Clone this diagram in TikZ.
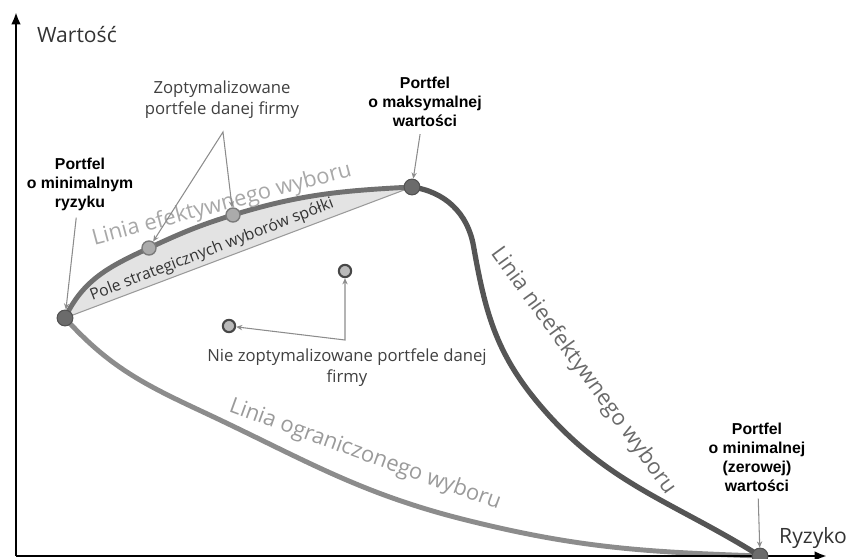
\documentclass[tikz,border=0pt]{standalone}
\usepackage{fontspec}
\setmainfont{Open Sans}
\newfontfamily\portfelfont{Liberation Sans}
\usetikzlibrary{arrows.meta}

\definecolor{effline}{HTML}{707070}
\definecolor{ineffline}{HTML}{555555}
\definecolor{limline}{HTML}{8C8C8C}
\definecolor{fieldgray}{HTML}{E3E3E3}
\definecolor{fieldedge}{HTML}{9A9A9A}
\definecolor{efftext}{HTML}{A8A8A8}
\definecolor{inefftext}{HTML}{6A6A6A}
\definecolor{limtext}{HTML}{9A9A9A}

\tikzset{
  axis/.style={line width=1.6pt, -{Latex[length=7pt,width=5.5pt]}},
  curve/.style={line width=2.8pt, line cap=round},
  pointer/.style={draw=black!45, line width=0.6pt, >={Stealth[length=3.5pt,width=3pt]}},
  keypt/.style={circle, fill=black!58, draw=black!68, line width=0.6pt, minimum size=9pt, inner sep=0pt},
  optpt/.style={circle, fill=black!33, draw=black!52, line width=0.8pt, minimum size=8pt, inner sep=0pt},
  noptpt/.style={circle, fill=black!27, draw=black!72, line width=1.2pt, minimum size=7pt, inner sep=0pt},
  portfel/.style={align=center, font=\portfelfont\bfseries\fontsize{9}{10.8}\selectfont},
  note/.style={align=center, text=black!75, font=\fontsize{9.5}{12}\selectfont},
  linetext/.style={font=\fontsize{12.5}{14}\selectfont},
  fieldtext/.style={text=black!80, font=\fontsize{9}{11}\selectfont},
  axislabel/.style={text=black!80, font=\fontsize{12}{14}\selectfont}
}

\begin{document}
\begin{tikzpicture}[every node/.style={inner sep=1pt}]
  \useasboundingbox (-0.32,-0.04) rectangle (16.84,11.12);

  % Points
  \coordinate (o) at (0,0);
  \coordinate (pmin) at (0.98,4.76);
  \coordinate (pmax) at (7.92,7.38);
  \coordinate (pzero) at (14.88,0);
  \coordinate (popt1) at (2.66,6.16);
  \coordinate (popt2) at (4.34,6.82);

  % Pole strategicznych wyborow
  \fill[fieldgray] (pmin) to[out=65,in=205] (popt1) to[out=25,in=197] (popt2) to[out=17,in=183] (pmax) -- cycle;
  \draw[fieldedge, line width=0.6pt] (pmin) -- (pmax);

  % Linie
  \draw[curve, draw=limline] (pmin) to[out=-48,in=155] (3.7,2.9) to[out=-25,in=166] (9.0,0.72) to[out=-14,in=178] (pzero);
  \draw[curve, draw=effline] (pmin) to[out=65,in=205] (popt1) to[out=25,in=197] (popt2) to[out=17,in=183] (pmax);
  \draw[curve, draw=ineffline, line width=3pt] (pmax) to[out=-8,in=100] (9.15,6.2) to[out=-80,in=130] (10.45,3.05) to[out=-50,in=148] (pzero);

  % Osie
  \draw[axis] (o) -- (0,10.88);
  \draw[axis] (o) -- (16.22,0);
  \node[axislabel, anchor=west] (wart) at (0.38,10.42) {Wartość};
  \node[axislabel] (ryz) at (15.94,0.36) {Ryzyko};

  % Portfele
  \node[keypt] (minr) at (pmin) {};
  \node[keypt] (maxv) at (pmax) {};
  \node[keypt] (zerov) at (pzero) {};
  \node[optpt] (opt1) at (popt1) {};
  \node[optpt] (opt2) at (popt2) {};
  \node[noptpt] (nopt1) at (6.58,5.70) {};
  \node[noptpt] (nopt2) at (4.26,4.60) {};

  % Opisy
  \node[portfel] (lminr) at (1.28,7.44) {Portfel\\o minimalnym\\ryzyku};
  \node[portfel] (lmaxv) at (8.18,9.08) {Portfel\\o maksymalnej\\wartości};
  \node[portfel] (lzerov) at (14.82,1.98) {Portfel\\o minimalnej\\(zerowej)\\wartości};
  \node[note] (lopt) at (4.12,9.12) {Zoptymalizowane\\portfele danej firmy};
  \node[note] (lnopt) at (6.62,3.76) {Nie zoptymalizowane portfele danej\\firmy};

  \node[linetext, text=efftext, rotate=15] (teff) at (4.12,7.02) {Linia efektywnego wyboru};
  \node[linetext, text=inefftext, rotate=-54] (tineff) at (11.34,3.70) {Linia nieefektywnego wyboru};
  \node[linetext, text=limtext, rotate=-20] (tlim) at (6.98,2.02) {Linia ograniczonego wyboru};
  \node[fieldtext, rotate=21] (tfield) at (3.92,6.12) {Pole strategicznych wyborów spółki};

  % Strzalki
  \draw[pointer, ->, shorten <=3pt] (lminr) -- (minr);
  \draw[pointer, ->, shorten <=3pt] (lmaxv) -- (maxv);
  \draw[pointer, ->, shorten <=3pt] (lzerov) -- (zerov);
  \coordinate (zapex) at (4.14,8.48);
  \draw[pointer, <->] (opt1) -- (zapex) -- (opt2);
  \coordinate (njunc) at (6.58,4.32);
  \draw[pointer, <->] (nopt2) -- (njunc) -- (nopt1);
\end{tikzpicture}
\end{document}
